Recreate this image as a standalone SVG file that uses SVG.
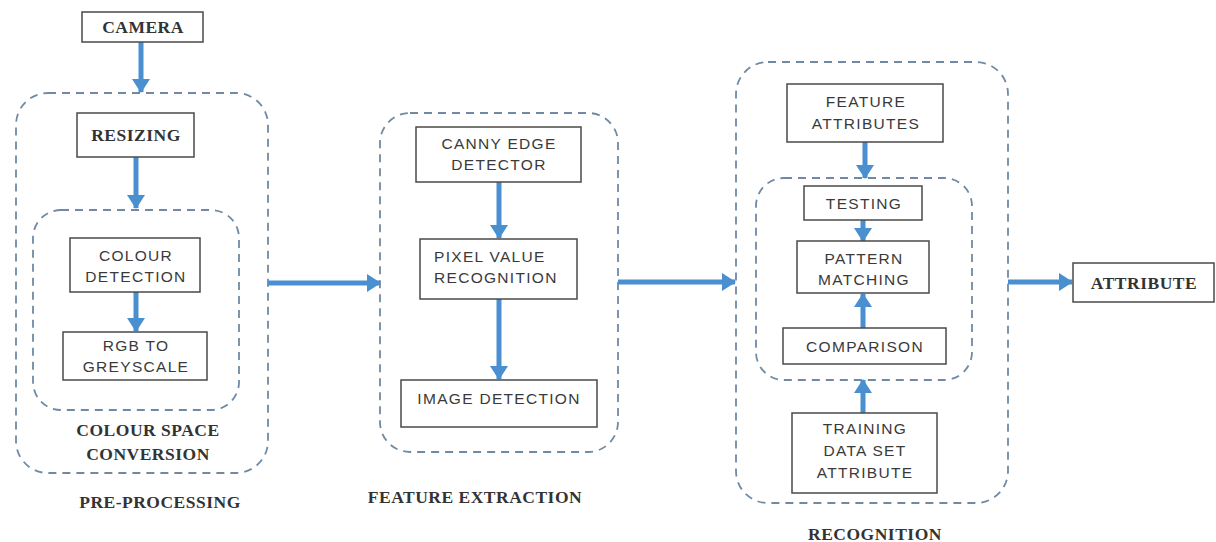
<svg xmlns="http://www.w3.org/2000/svg" width="1216" height="542" viewBox="0 0 1216 542">
<defs>
<marker id="ah" viewBox="0 0 14 18" refX="13" refY="9" markerWidth="14" markerHeight="18" markerUnits="userSpaceOnUse" orient="auto">
<path d="M0,0 L14,9 L0,18 Z" fill="#4a8fcf"/>
</marker>
<style>
.box{fill:#fff;stroke:#4a4a4a;stroke-width:1.5}
.grp{fill:none;stroke:#6f8aa5;stroke-width:1.8;stroke-dasharray:8,6}
.arr{stroke:#4a8fcf;stroke-width:5;fill:none;marker-end:url(#ah)}
.s{font-family:"Liberation Sans",Arial,sans-serif;font-size:15.5px;letter-spacing:1.3px;fill:#3a3a3a;text-anchor:middle}
.st{text-anchor:start}
.b{font-family:"Liberation Serif","Times New Roman",serif;font-weight:bold;font-size:17.5px;fill:#333;text-anchor:middle;letter-spacing:0.5px}
</style>
</defs>
<rect width="1216" height="542" fill="#fff"/>

<g id="groups">
<rect id="pre-processing-group" class="grp" x="16" y="93" width="252" height="380" rx="32"/>
<rect id="colour-space-group" class="grp" x="33" y="210" width="206" height="200" rx="28"/>
<rect id="feature-extraction-group" class="grp" x="380" y="113" width="238" height="339" rx="30"/>
<rect id="recognition-group" class="grp" x="736" y="62" width="272" height="441" rx="32"/>
<rect id="matching-group" class="grp" x="756" y="178" width="216" height="202" rx="28"/>
</g>

<g id="connectors">
<line class="arr" x1="141" y1="42" x2="141" y2="92"/>
<line class="arr" x1="136" y1="157" x2="136" y2="208"/>
<line class="arr" x1="136" y1="292" x2="136" y2="331"/>
<line class="arr" x1="268" y1="283" x2="380" y2="283"/>
<line class="arr" x1="499" y1="182" x2="499" y2="238"/>
<line class="arr" x1="499" y1="299" x2="499" y2="379"/>
<line class="arr" x1="618" y1="282" x2="735" y2="282"/>
<line class="arr" x1="865" y1="142" x2="865" y2="178"/>
<line class="arr" x1="863" y1="220" x2="863" y2="241"/>
<line class="arr" x1="863" y1="328" x2="863" y2="294"/>
<line class="arr" x1="863" y1="413" x2="863" y2="380"/>
<line class="arr" x1="1008" y1="282" x2="1072" y2="282"/>
</g>

<g id="camera"><rect class="box" x="82" y="12" width="121" height="30"/><text class="b" x="143" y="33">CAMERA</text></g>
<g id="resizing"><rect class="box" x="77" y="113" width="117" height="44"/><text class="b" x="136" y="141">RESIZING</text></g>
<g id="colour-detection"><rect class="box" x="70" y="238" width="130" height="54"/><text class="s" x="136" y="261">COLOUR</text><text class="s" x="136" y="282">DETECTION</text></g>
<g id="rgb-to-greyscale"><rect class="box" x="63" y="332" width="144" height="48"/><text class="s" x="136" y="351">RGB TO</text><text class="s" x="136" y="372">GREYSCALE</text></g>
<g id="colour-space-label"><text class="b" x="148" y="436">COLOUR SPACE</text><text class="b" x="148" y="460">CONVERSION</text></g>
<g id="pre-processing-label"><text class="b" x="160" y="508">PRE-PROCESSING</text></g>

<g id="canny-edge-detector"><rect class="box" x="416" y="127" width="165" height="55"/><text class="s" x="499" y="149">CANNY EDGE</text><text class="s" x="499" y="170">DETECTOR</text></g>
<g id="pixel-value-recognition"><rect class="box" x="420" y="239" width="157" height="60"/><text class="s st" x="434" y="262">PIXEL VALUE</text><text class="s st" x="434" y="283">RECOGNITION</text></g>
<g id="image-detection"><rect class="box" x="401" y="380" width="196" height="47"/><text class="s" x="499" y="404">IMAGE DETECTION</text></g>
<g id="feature-extraction-label"><text class="b" x="475" y="503">FEATURE EXTRACTION</text></g>

<g id="feature-attributes"><rect class="box" x="787" y="84" width="156" height="58"/><text class="s" x="866" y="107">FEATURE</text><text class="s" x="866" y="129">ATTRIBUTES</text></g>
<g id="testing"><rect class="box" x="804" y="186" width="118" height="34"/><text class="s" x="864" y="209">TESTING</text></g>
<g id="pattern-matching"><rect class="box" x="797" y="241" width="132" height="52"/><text class="s" x="864" y="264">PATTERN</text><text class="s" x="864" y="285">MATCHING</text></g>
<g id="comparison"><rect class="box" x="783" y="328" width="163" height="36"/><text class="s" x="865" y="352">COMPARISON</text></g>
<g id="training-data-set-attribute"><rect class="box" x="792" y="413" width="145" height="80"/><text class="s" x="865" y="434">TRAINING</text><text class="s" x="865" y="456">DATA SET</text><text class="s" x="865" y="478">ATTRIBUTE</text></g>
<g id="recognition-label"><text class="b" x="875" y="540">RECOGNITION</text></g>

<g id="attribute"><rect class="box" x="1073" y="263" width="141" height="39"/><text class="b" x="1144" y="289">ATTRIBUTE</text></g>
</svg>
